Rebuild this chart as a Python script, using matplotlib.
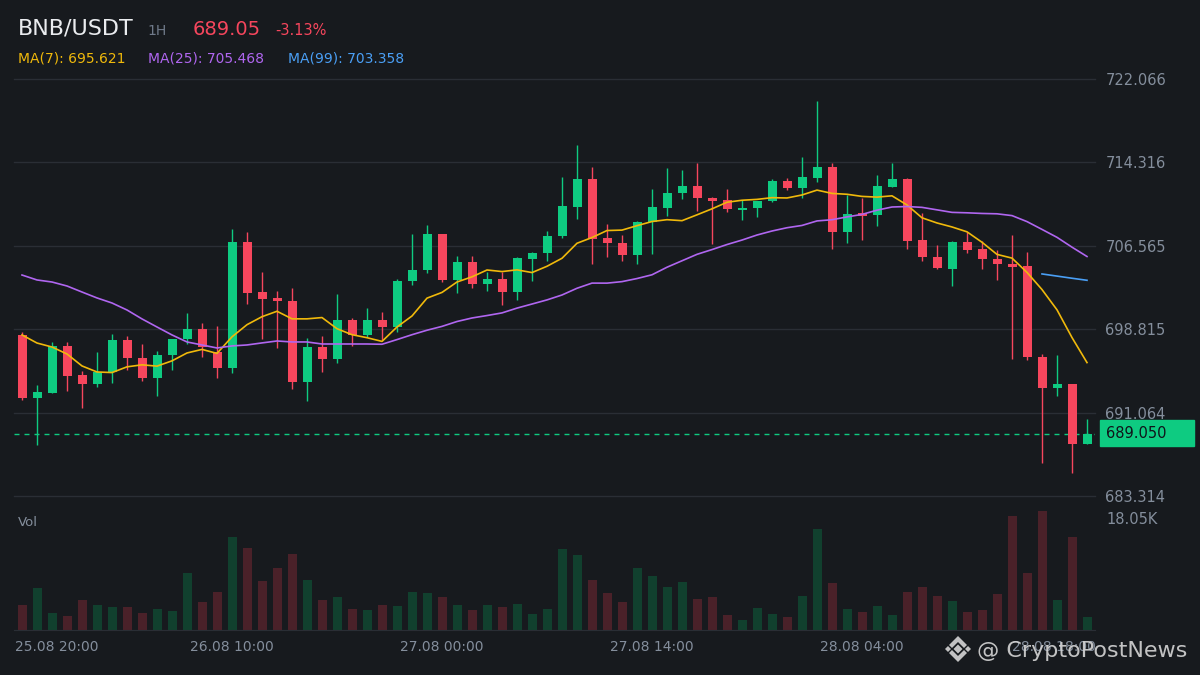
import matplotlib
matplotlib.use("Agg")
import matplotlib.pyplot as plt
from matplotlib.patches import Polygon, Rectangle
import numpy as np
import pandas as pd

# ---------------- data ----------------
open_ = [698.28, 692.42, 692.89, 697.26, 694.56, 693.72, 694.84, 697.81, 696.14, 694.28,
         696.42, 697.91, 698.84, 696.70, 695.21, 706.92, 702.27, 701.72, 701.44, 693.91,
         697.16, 696.05, 699.67, 698.28, 699.67, 699.02, 703.29, 704.32, 707.66, 703.39,
         705.06, 703.02, 703.48, 702.27, 705.34, 705.90, 707.48, 710.17, 712.78, 707.29,
         706.83, 705.71, 708.78, 710.08, 711.48, 712.13, 711.01, 710.82, 709.89, 710.08,
         710.73, 712.59, 711.94, 712.87, 713.89, 707.85, 709.62, 709.43, 712.03, 712.78,
         707.11, 705.53, 704.41, 706.92, 706.27, 705.34, 704.88, 704.69, 696.23, 693.35,
         693.72, 688.15]
high = [698.56, 693.63, 697.63, 697.63, 694.93, 696.70, 698.37, 698.18, 697.44, 696.79,
        697.91, 700.32, 699.39, 699.11, 708.13, 707.85, 704.13, 702.37, 702.64, 698.00,
        698.18, 702.09, 699.86, 700.79, 700.42, 703.48, 707.66, 708.50, 707.66, 705.62,
        705.62, 704.13, 704.13, 705.53, 705.99, 707.94, 712.96, 715.93, 713.89, 708.59,
        707.57, 708.87, 711.85, 713.80, 713.61, 714.26, 711.10, 711.85, 710.82, 710.73,
        712.78, 712.87, 714.82, 720.02, 714.26, 711.29, 711.01, 713.15, 714.26, 712.87,
        709.62, 706.64, 707.01, 707.85, 707.01, 706.18, 707.57, 705.99, 696.51, 696.42,
        693.72, 690.47]
low = [692.24, 688.06, 692.89, 693.07, 691.49, 693.44, 693.82, 695.03, 694.00, 692.61,
       695.03, 697.44, 696.23, 694.28, 694.75, 701.16, 697.91, 697.07, 693.26, 692.14,
       694.84, 695.68, 697.26, 698.09, 697.81, 698.56, 702.92, 704.04, 703.20, 702.18,
       702.64, 702.37, 701.06, 701.53, 703.29, 705.15, 707.29, 709.06, 704.88, 705.53,
       705.15, 704.88, 705.81, 709.34, 710.92, 709.80, 706.74, 709.71, 708.97, 709.24,
       710.64, 711.75, 711.01, 712.50, 706.27, 706.83, 707.11, 708.41, 712.03, 706.27,
       705.15, 704.41, 702.83, 705.90, 704.41, 703.39, 696.05, 695.95, 686.38, 692.61,
       685.45, 688.15]
close = [692.42, 692.98, 697.26, 694.47, 693.72, 694.84, 697.81, 696.14, 694.28, 696.42,
         697.91, 698.84, 697.16, 695.21, 706.92, 702.18, 701.62, 701.44, 693.91, 697.16,
         696.05, 699.67, 698.28, 699.67, 699.02, 703.29, 704.32, 707.66, 703.39, 705.06,
         703.02, 703.48, 702.27, 705.43, 705.90, 707.48, 710.27, 712.78, 707.20, 706.83,
         705.71, 708.78, 710.17, 711.48, 712.13, 711.01, 710.73, 709.99, 710.08, 710.73,
         712.59, 711.94, 712.96, 713.89, 707.85, 709.52, 709.34, 712.13, 712.78, 707.01,
         705.53, 704.50, 706.92, 706.18, 705.34, 704.88, 704.60, 696.23, 693.35, 693.72,
         688.15, 689.05]
volume_k = [3.82, 6.42, 2.60, 2.14, 4.59, 3.82, 3.52, 3.52, 2.60, 3.21,
            2.91, 8.72, 4.28, 5.81, 14.07, 12.39, 7.50, 9.33, 11.47, 7.65,
            4.59, 5.05, 3.21, 3.06, 3.82, 3.67, 5.81, 5.66, 5.05, 3.82,
            3.06, 3.82, 3.52, 3.98, 2.45, 3.21, 12.24, 11.32, 7.65, 5.66,
            4.28, 9.48, 8.26, 6.58, 7.34, 4.74, 5.05, 2.29, 1.53, 3.37,
            2.45, 1.99, 5.20, 15.30, 7.19, 3.21, 2.75, 3.67, 2.29, 5.81,
            6.58, 5.20, 4.44, 2.75, 3.06, 5.51, 17.29, 8.57, 18.05, 4.59,
            14.07, 1.99]

ma7_head = [698.28, 697.53, 697.16, 696.51, 695.40, 694.84]
ma25_head = [703.85, 703.39, 703.20, 702.83, 702.27, 701.72, 701.25, 700.60, 699.77, 699.02,
             698.28, 697.63, 697.35, 697.07, 697.26, 697.35, 697.54, 697.72, 697.63, 697.63,
             697.44, 697.44, 697.44, 697.44]
ma99_tail = [703.95, 703.75, 703.55, 703.36]

price_ticks = [722.066, 714.316, 706.565, 698.815, 691.064, 683.314]
time_ticks = [0, 14, 28, 42, 56, 70]
time_labels = ["25.08 20:00", "26.08 10:00", "27.08 00:00",
               "27.08 14:00", "28.08 04:00", "28.08 18:00"]
vol_max_label = "18.05K"
last_price = 689.05

# ---------------- style ----------------
BG = "#171a1e"
GRID = "#2a2e35"
TXT = "#848e9c"
UP = "#0ecb81"
DOWN = "#f6465d"
UP_V = "#11402e"
DOWN_V = "#4a2129"
C_MA7 = "#f0b90b"
C_MA25 = "#b066f0"
C_MA99 = "#4a9ff5"

W, H = 1200, 675


def fx(px):
    return px / W


def fy(py):
    return 1 - py / H


fig = plt.figure(figsize=(12, 6.75), dpi=100, facecolor=BG)

n = len(close)
x = np.arange(n)
o = np.array(open_)
c = np.array(close)
up = c >= o

# price axes
ax = fig.add_axes([fx(14), fy(496), fx(1095) - fx(14), fy(79) - fy(496)])
ax.set_facecolor(BG)
ax.set_xlim((14 - 22) / 15, (1095 - 22) / 15)
ax.set_ylim(price_ticks[-1], price_ticks[0])
for s in ax.spines.values():
    s.set_visible(False)
for t in price_ticks:
    ax.axhline(t, color=GRID, lw=1, zorder=0, clip_on=False)
ax.set_xticks([])
ax.yaxis.tick_right()
ax.set_yticks(price_ticks)
ax.set_yticklabels(["%.3f" % t for t in price_ticks])
ax.tick_params(axis="y", length=0, pad=7.5, labelsize=10.5, labelcolor=TXT)

cols = np.where(up, UP, DOWN)
ax.vlines(x, low, high, colors=cols, lw=1, zorder=2)
body = np.maximum(np.abs(c - o), 0.12)
ax.bar(x, body, bottom=np.minimum(o, c), width=0.6, color=cols, lw=0, zorder=3)

s_close = pd.Series(close)
ma7 = s_close.rolling(7).mean().to_numpy()
ma7[:6] = ma7_head
ma25 = s_close.rolling(25).mean().to_numpy()
ma25[:24] = ma25_head
ax.plot(x, ma7, color=C_MA7, lw=1.2, zorder=4)
ax.plot(x, ma25, color=C_MA25, lw=1.2, zorder=4)
ax.plot(x[-len(ma99_tail):], ma99_tail, color=C_MA99, lw=1.2, zorder=4)

ax.axhline(last_price, color=UP, lw=1, ls=(0, (3.6, 3.6)), zorder=1)

# current price tag
fig.patches.append(Rectangle((fx(1100), fy(446)), fx(1194) - fx(1100), fy(420) - fy(446),
                             transform=fig.transFigure, color=UP, zorder=5))
fig.text(fx(1106), fy(434), "%.3f" % last_price, color="#10141a", fontsize=10.5,
         va="center", ha="left", zorder=6)

# volume axes
axv = fig.add_axes([fx(14), fy(630), fx(1095) - fx(14), fy(500) - fy(630)])
axv.set_facecolor(BG)
axv.set_xlim(ax.get_xlim())
axv.set_ylim(0, 18.05 * 130 / 119)
for k, s in axv.spines.items():
    s.set_visible(k == "bottom")
axv.spines["bottom"].set_color(GRID)
axv.set_yticks([])
axv.set_xticks([])
axv.bar(x, volume_k, width=0.6, color=np.where(up, UP_V, DOWN_V), lw=0)

fig.text(fx(18), fy(523), "Vol", color=TXT, fontsize=9.5, va="center", ha="left")
fig.text(fx(1106), fy(520), vol_max_label, color=TXT, fontsize=10.5, va="center", ha="left")

# time labels (first and last pinned to the edges)
for i, lab in zip(time_ticks, time_labels):
    if i == time_ticks[0]:
        fig.text(fx(15), fy(647), lab, color=TXT, fontsize=10, ha="left", va="center")
    elif i == time_ticks[-1]:
        fig.text(fx(1096), fy(647), lab, color=TXT, fontsize=10, ha="right", va="center")
    else:
        axv.text(i, -0.13, lab, color=TXT, fontsize=10, ha="center", va="center",
                 transform=axv.get_xaxis_transform())

# header
fig.text(fx(18), fy(35), "BNB/USDT", color="#eaecef", fontsize=16, va="baseline")
fig.text(fx(147), fy(35), "1H", color="#707a8a", fontsize=10, va="baseline")
fig.text(fx(193), fy(35), "689.05", color=DOWN, fontsize=14, va="baseline")
fig.text(fx(275), fy(35), "-3.13%", color=DOWN, fontsize=10.5, va="baseline")
fig.text(fx(18), fy(62), "MA(7): 695.621", color=C_MA7, fontsize=10, va="baseline")
fig.text(fx(148), fy(62), "MA(25): 705.468", color=C_MA25, fontsize=10, va="baseline")
fig.text(fx(288), fy(62), "MA(99): 703.358", color=C_MA99, fontsize=10, va="baseline")

# watermark
wm = "#d6d6d6"
cx, cy = 958, 649
shapes = [
    [(0, -4.5), (4.5, 0), (0, 4.5), (-4.5, 0)],
    [(-10, -3), (-7, 0), (-10, 3), (-13, 0)],
    [(10, -3), (13, 0), (10, 3), (7, 0)],
    [(0, -13), (9, -4), (6, -1), (0, -7), (-6, -1), (-9, -4)],
    [(0, 13), (9, 4), (6, 1), (0, 7), (-6, 1), (-9, 4)],
]
for sh in shapes:
    pts = [(fx(cx + dx), fy(cy + dy)) for dx, dy in sh]
    fig.patches.append(Polygon(pts, closed=True, transform=fig.transFigure,
                               color=wm, alpha=0.9, lw=0, zorder=7))
fig.text(fx(977), fy(657), "@ CryptoPostNews", color=wm, alpha=0.9, fontsize=16,
         va="baseline", ha="left", zorder=7)

fig.savefig("out.png", dpi=100, facecolor=BG)
